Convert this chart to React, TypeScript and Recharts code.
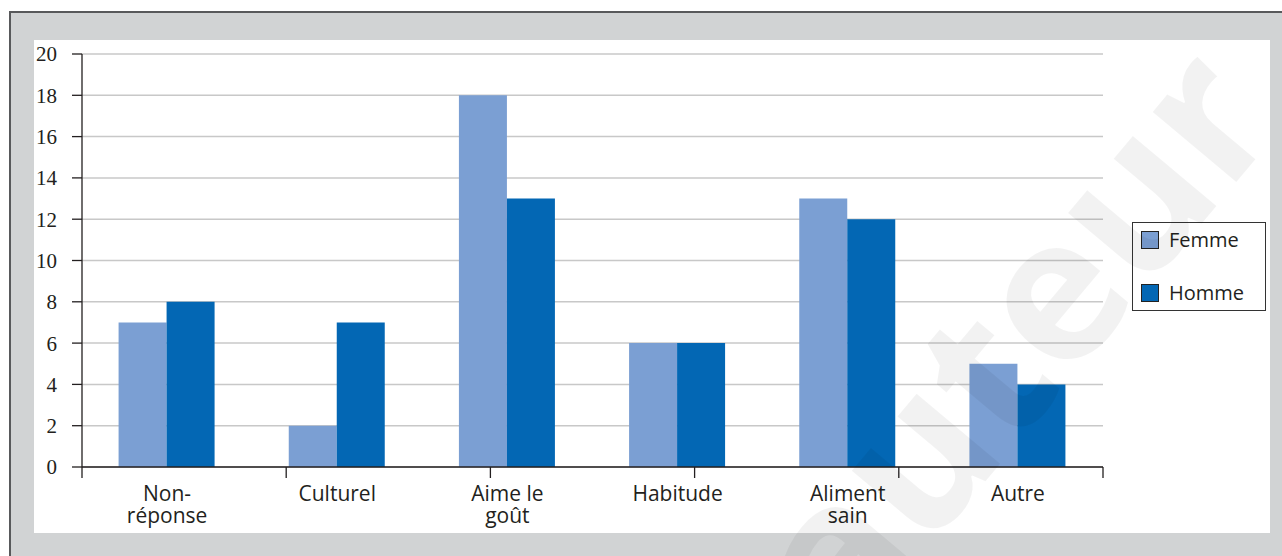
import React from "react";
import {
  BarChart,
  Bar,
  XAxis,
  YAxis,
  CartesianGrid,
  Legend,
} from "recharts";

// categories, "\n" marks a line break in the axis label
const categories = [
  "Non-\nréponse",
  "Culturel",
  "Aime le\ngoût",
  "Habitude",
  "Aliment\nsain",
  "Autre",
];
const femme = [7, 2, 18, 6, 13, 5];
const homme = [8, 7, 13, 6, 12, 4];
const yTicks = [0, 2, 4, 6, 8, 10, 12, 14, 16, 18, 20];
const boundaryTicks = [0, 1, 2, 3, 4, 5, 6];

const series = [
  { key: "femme", name: "Femme", color: "#7b9fd3" },
  { key: "homme", name: "Homme", color: "#0367b4" },
];

const data = categories.map((c, i) => ({
  cat: c,
  femme: femme[i],
  homme: homme[i],
}));

const SANS = "'Open Sans', 'DejaVu Sans', sans-serif";
const SERIF = "'Liberation Serif', 'DejaVu Serif', serif";

const CategoryTick = (props: any) => {
  const { x, y, payload } = props;
  const lines = String(payload.value).split("\n");
  return (
    <g>
      {lines.map((l, i) => (
        <text
          key={i}
          x={x}
          y={y + 33 + i * 22}
          textAnchor="middle"
          fill="#231f20"
          fontFamily={SANS}
          fontSize={21}
        >
          {l}
        </text>
      ))}
    </g>
  );
};

const EmptyTick = () => <g />;

const LegendBox = () => (
  <div
    style={{
      position: "relative",
      width: 134,
      height: 89,
      boxSizing: "border-box",
      border: "1.5px solid #333",
      background: "#fff",
    }}
  >
    {series.map((s, i) => (
      <div
        key={s.key}
        style={{
          position: "absolute",
          left: 8,
          top: 7 + i * 53,
          height: 19,
          display: "flex",
          alignItems: "center",
        }}
      >
        <span
          style={{
            width: 18,
            height: 18,
            boxSizing: "border-box",
            border: "1px solid #222",
            background: s.color,
            marginRight: 10,
          }}
        />
        <span
          style={{
            fontFamily: SANS,
            fontSize: 20,
            color: "#231f20",
            lineHeight: "19px",
          }}
        >
          {s.name}
        </span>
      </div>
    ))}
  </div>
);

export default function App() {
  return (
    <div
      style={{
        position: "absolute",
        left: 0,
        top: 0,
        width: 1282,
        height: 556,
        overflow: "hidden",
        background: "#fff",
      }}
    >
      {/* grey frame */}
      <div
        style={{
          position: "absolute",
          left: 9,
          top: 11,
          right: -10,
          bottom: -10,
          background: "#d1d3d4",
          borderLeft: "2px solid #58595b",
          borderTop: "2px solid #58595b",
        }}
      />
      {/* white panel */}
      <div
        style={{
          position: "absolute",
          left: 34,
          top: 40,
          width: 1236,
          height: 493,
          background: "#fff",
        }}
      />
      <div style={{ position: "absolute", left: 0, top: 0 }}>
        <BarChart
          width={1282}
          height={556}
          data={data}
          margin={{ top: 54, right: 179, bottom: 0, left: 0 }}
          barCategoryGap="21.5%"
          barGap={0}
        >
          <CartesianGrid
            xAxisId="cat"
            vertical={false}
            stroke="#c8c8c8"
            strokeWidth={1.5}
          />
          {/* axis line + tick marks on the category boundaries */}
          <XAxis
            xAxisId="bnd"
            type="number"
            domain={[0, 6]}
            ticks={boundaryTicks}
            interval={0}
            height={1}
            axisLine={{ stroke: "#231f20", strokeWidth: 1.3 }}
            tick={<EmptyTick />}
            tickSize={11}
            tickLine={{ stroke: "#231f20", strokeWidth: 1.3 }}
          />
          {/* category labels */}
          <XAxis
            xAxisId="cat"
            dataKey="cat"
            height={88}
            interval={0}
            tickLine={false}
            tickSize={0}
            tickMargin={0}
            axisLine={false}
            tick={<CategoryTick />}
          />
          <YAxis
            width={82}
            domain={[0, 20]}
            ticks={yTicks}
            interval={0}
            tickSize={10}
            tickMargin={15}
            axisLine={{ stroke: "#231f20", strokeWidth: 1.3 }}
            tickLine={{ stroke: "#231f20", strokeWidth: 1.3 }}
            tick={{ fontFamily: SERIF, fontSize: 21, fill: "#231f20" }}
          />
          <Legend
            layout="vertical"
            align="center"
            verticalAlign="middle"
            content={<LegendBox />}
            wrapperStyle={{ left: 1132, top: 222, width: 134, height: 89 }}
          />
          {series.map((s) => (
            <Bar
              key={s.key}
              xAxisId="cat"
              dataKey={s.key}
              name={s.name}
              fill={s.color}
              isAnimationActive={false}
            />
          ))}
        </BarChart>
      </div>
      {/* faint watermark */}
      <svg
        width={1282}
        height={556}
        style={{ position: "absolute", left: 0, top: 0, pointerEvents: "none" }}
      >
        <text
          transform="translate(1025 350) rotate(-50)"
          textAnchor="middle"
          dy="0.27em"
          fontFamily={SANS}
          fontWeight={700}
          fontSize={200}
          fill="#000"
          fillOpacity={0.05}
        >
          auteur
        </text>
      </svg>
    </div>
  );
}
